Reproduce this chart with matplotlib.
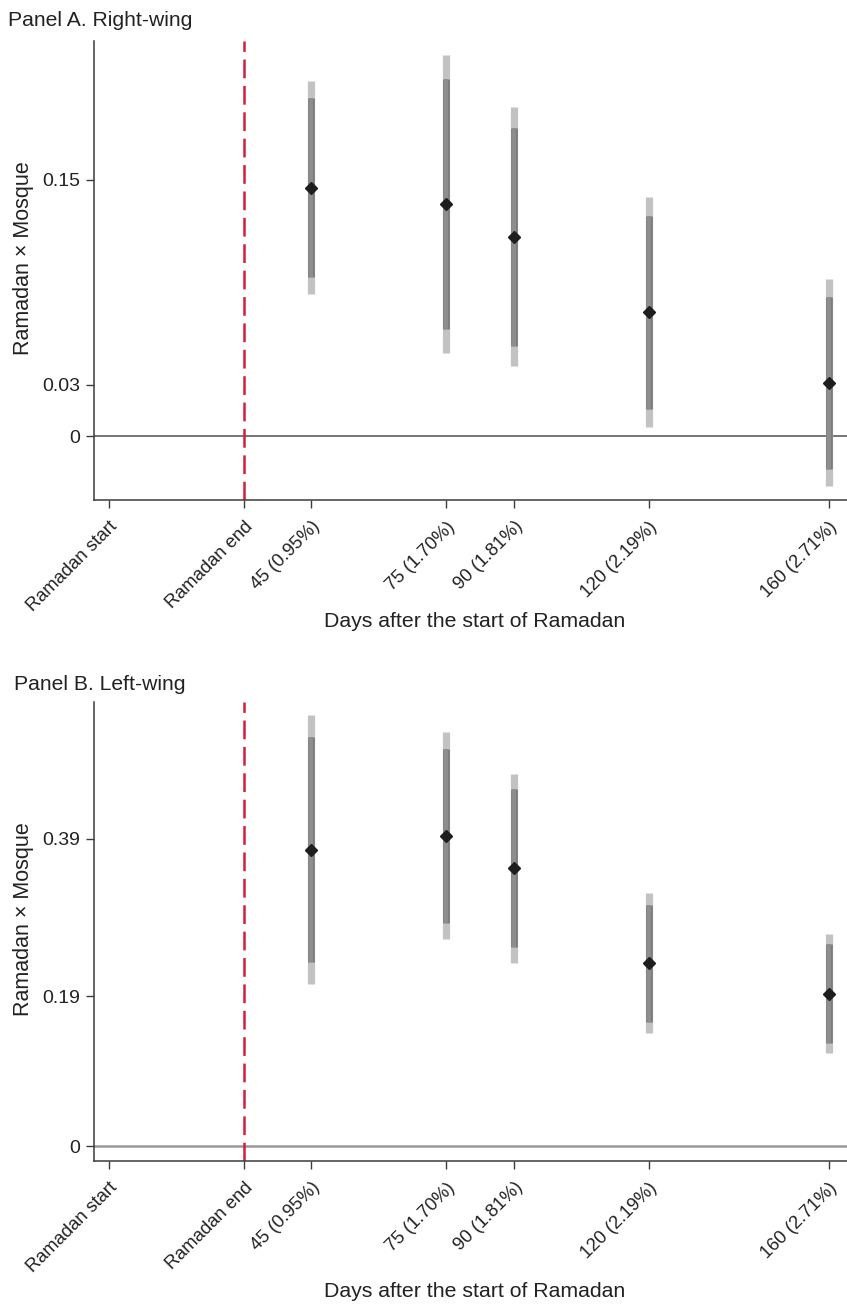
import matplotlib
matplotlib.use("Agg")
import matplotlib.pyplot as plt

plt.rcParams['font.family'] = ['Liberation Sans', 'DejaVu Sans']
plt.rcParams['lines.scale_dashes'] = False

# ---- data ----
tick_days = [0, 30, 45, 75, 90, 120, 160]
tick_labels = ["Ramadan start", "Ramadan end", "45 (0.95%)", "75 (1.70%)",
               "90 (1.81%)", "120 (2.19%)", "160 (2.71%)"]
days = [45, 75, 90, 120, 160]
ramadan_end = 30

# Panel A: Right-wing
coef_a = [0.1453, 0.1356, 0.1167, 0.0725, 0.0313]
lo90_a = [0.0929, 0.0627, 0.0530, 0.0161, -0.0193]
hi90_a = [0.1976, 0.2087, 0.1804, 0.1288, 0.0816]
lo95_a = [0.0830, 0.0489, 0.0411, 0.0056, -0.0291]
hi95_a = [0.2077, 0.2229, 0.1927, 0.1397, 0.0918]
yticks_a = [0, 0.03, 0.15]

# Panel B: Left-wing
coef_b = [0.3760, 0.3942, 0.3527, 0.2321, 0.1935]
lo90_b = [0.2334, 0.2837, 0.2524, 0.1579, 0.1305]
hi90_b = [0.5192, 0.5043, 0.4531, 0.3061, 0.2566]
lo95_b = [0.2054, 0.2626, 0.2328, 0.1432, 0.1185]
hi95_b = [0.5475, 0.5255, 0.4726, 0.3210, 0.2689]
yticks_b = [0, 0.19, 0.39]

W, H = 847, 1304
fig = plt.figure(figsize=(W / 100, H / 100), dpi=100)


def panel(rect, coef, lo90, hi90, lo95, hi95, yticks, ylim, zero_color, zero_lw,
          xlabel_y, title, title_xy):
    ax = fig.add_axes(rect)
    ax.set_xlim(-3.33, 164)
    ax.set_ylim(*ylim)
    for s in ['top', 'right']:
        ax.spines[s].set_visible(False)
    for s in ['left', 'bottom']:
        ax.spines[s].set_color('#3c3c3c')
        ax.spines[s].set_linewidth(1.1)
    ax.axhline(0, color=zero_color, lw=zero_lw, zorder=1)
    ax.axvline(ramadan_end, color='#d31f3c', lw=1.8, dashes=(13.5, 5.5), zorder=2)
    ax.vlines(days, lo95, hi95, color='#c2c2c2', lw=5.2, capstyle='butt', zorder=3)
    ax.vlines(days, lo90, hi90, color='#7b7b7b', lw=4.8, capstyle='butt', zorder=4)
    ax.vlines(days, lo90, hi90, color='#8e8e8e', lw=2.8, capstyle='butt', zorder=5)
    ax.plot(days, coef, linestyle='none', marker='D', markersize=6.6,
            color='#1e1e1e', zorder=6)
    ax.set_yticks(yticks)
    ax.set_yticklabels([f"{v:g}" for v in yticks])
    ax.set_xticks(tick_days)
    ax.set_xticklabels(tick_labels, rotation=45, ha='right', va='top',
                       rotation_mode='anchor')
    ax.tick_params(axis='both', colors='#3c3c3c', labelcolor='#222222',
                   length=6, width=1.0, direction='out')
    ax.tick_params(axis='x', pad=7, labelsize=13.2)
    ax.tick_params(axis='y', pad=4, labelsize=14)
    ax.set_ylabel("Ramadan × Mosque", fontsize=15.5, color='#222222')
    ax.yaxis.set_label_coords(-0.093, 0.527)
    ax.yaxis.label.set_va('center')
    ax.set_xlabel("Days after the start of Ramadan", fontsize=15.3, color='#222222')
    ax.xaxis.set_label_coords(0.505, xlabel_y)
    ax.xaxis.label.set_va('center')
    fig.text(title_xy[0] / W, 1 - title_xy[1] / H, title, fontsize=15.2,
             color='#222222', ha='left', va='baseline')
    return ax


left = 94 / W
width = 1 - left
panel([left, 1 - 500 / H, width, (500 - 41) / H], coef_a, lo90_a, hi90_a, lo95_a, hi95_a,
      yticks_a, (-0.0372, 0.231), '#6a6a6a', 1.3, -0.265,
      "Panel A. Right-wing", (8, 26.5))
panel([left, 1 - 1161 / H, width, (1161 - 702.3) / H], coef_b, lo90_b, hi90_b, lo95_b, hi95_b,
      yticks_b, (-0.019, 0.5636), '#9a9a9a', 1.8, -0.285,
      "Panel B. Left-wing", (14, 690))

fig.savefig("out.png", dpi=100)
